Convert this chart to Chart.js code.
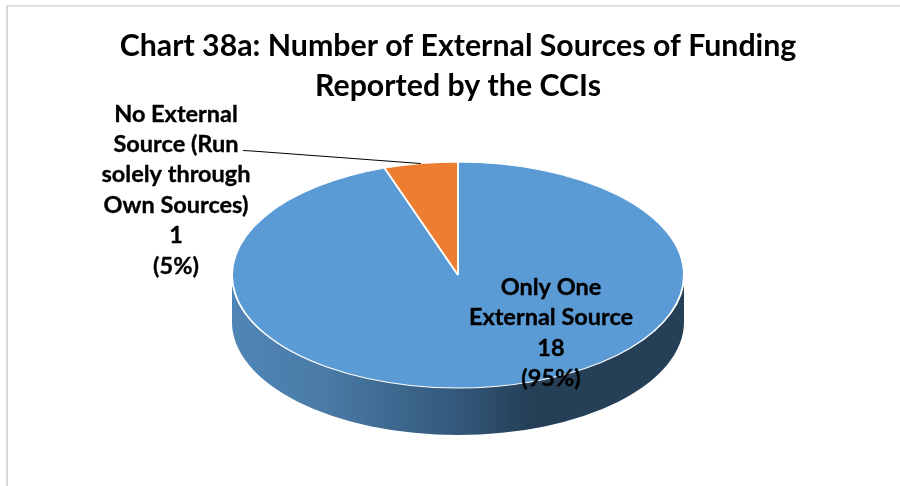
<!DOCTYPE html>
<html>
<head>
<meta charset="utf-8">
<style>
  html, body { margin: 0; padding: 0; background: #fff; }
  canvas { display: block; }
</style>
<script src="https://cdn.jsdelivr.net/npm/chart.js@4/dist/chart.umd.js"></script>
</head>
<body>
<canvas id="fundingPie" width="900" height="486"></canvas>
<script>
// data
const categories = ['Only One External Source', 'No External Source (Run solely through Own Sources)'];
const values = [18, 1];
const percents = ['(95%)', '(5%)'];
const titleLines = ['Chart 38a: Number of External Sources of Funding', 'Reported by the CCIs'];
const blueLabelLines = ['Only One', 'External Source'];
const orangeLabelLines = ['No External', 'Source (Run', 'solely through', 'Own Sources)'];

const FONT = 'Lato, Carlito, "Open Sans", sans-serif';
const squash = 2;       // circle is stretched sideways to look like a tilted disc
const wallDepth = 47;   // height of the 3d side

// gray frame around the chart
const frame = {
    id: 'frame',
    beforeDraw(chart) {
        const { ctx, width, height } = chart;
        ctx.save();
        ctx.fillStyle = '#d9d9d9';
        ctx.fillRect(6, 5, 2, height - 5);
        ctx.fillRect(6, 5, width - 6, 1.5);
        ctx.restore();
    }
};

// side wall + stretch the pie into an ellipse
const tiltedPie = {
    id: 'tiltedPie',
    beforeDatasetsDraw(chart) {
        const { ctx } = chart;
        const arc = chart.getDatasetMeta(0).data[0];
        const rx = arc.outerRadius * squash;
        const ry = arc.outerRadius;

        const grad = ctx.createLinearGradient(arc.x - rx, 0, arc.x + rx, 0);
        grad.addColorStop(0, '#5085b7');
        grad.addColorStop(0.2, '#4a7ba6');
        grad.addColorStop(0.5, '#33587b');
        grad.addColorStop(0.66, '#253f57');
        grad.addColorStop(1, '#253f57');

        ctx.save();
        ctx.fillStyle = grad;
        ctx.beginPath();
        ctx.ellipse(arc.x, arc.y + wallDepth, rx, ry, 0, Math.PI, 0, true);
        ctx.lineTo(arc.x + rx, arc.y);
        ctx.lineTo(arc.x - rx, arc.y);
        ctx.closePath();
        ctx.fill();
        ctx.restore();

        ctx.save();
        ctx.translate(arc.x, 0);
        ctx.scale(squash, 1);
        ctx.translate(-arc.x, 0);
    },
    afterDatasetsDraw(chart) {
        chart.ctx.restore();
    }
};

function drawLines(ctx, lines, x, y, step) {
    lines.forEach((line, i) => {
        ctx.fillText(line, x, y + i * step);
        ctx.strokeText(line, x, y + i * step); // reference text is a bit heavier
    });
}

// data labels and the leader line
const pieLabels = {
    id: 'pieLabels',
    afterDraw(chart) {
        const { ctx } = chart;
        const meta = chart.getDatasetMeta(0);
        const orange = meta.data[1];
        const mid = (orange.startAngle + orange.endAngle) / 2;
        const tipX = orange.x + Math.cos(mid) * orange.outerRadius * squash;
        const tipY = orange.y + Math.sin(mid) * orange.outerRadius;

        ctx.save();
        ctx.strokeStyle = '#000';
        ctx.lineWidth = 1;
        ctx.beginPath();
        ctx.moveTo(243, 150.5);
        ctx.lineTo(252, 151);
        ctx.lineTo(tipX, tipY);
        ctx.stroke();

        ctx.fillStyle = '#000';
        ctx.lineWidth = 0.35;
        ctx.font = `bold 23.5px ${FONT}`;
        ctx.textAlign = 'center';
        ctx.textBaseline = 'middle';
        drawLines(ctx, orangeLabelLines.concat([String(values[1]), percents[1]]), 176, 114, 30.4);
        drawLines(ctx, blueLabelLines.concat([String(values[0]), percents[0]]), 551, 287, 30.5);
        ctx.restore();
    }
};

// config
const fundingPieConfig = {
    type: 'pie',
    data: {
        labels: categories,
        datasets: [{
            data: values,
            backgroundColor: ['#5b9bd5', '#ed7d31'],
            borderColor: '#fff',
            borderWidth: 1,
            clip: false
        }]
    },
    options: {
        responsive: false,
        animation: false,
        layout: { padding: { top: 26, bottom: 97.5, left: 16, right: 0 } },
        plugins: {
            legend: { display: false },
            tooltip: { enabled: false },
            title: {
                display: true,
                text: titleLines,
                color: '#000',
                font: { family: FONT, size: 30.3, weight: 'bold', lineHeight: 1.32 },
                padding: { top: 0, bottom: 55.5 }
            }
        }
    },
    plugins: [frame, tiltedPie, pieLabels]
};

// render
const fundingPie = new Chart(document.getElementById('fundingPie'), fundingPieConfig);
</script>
</body>
</html>
